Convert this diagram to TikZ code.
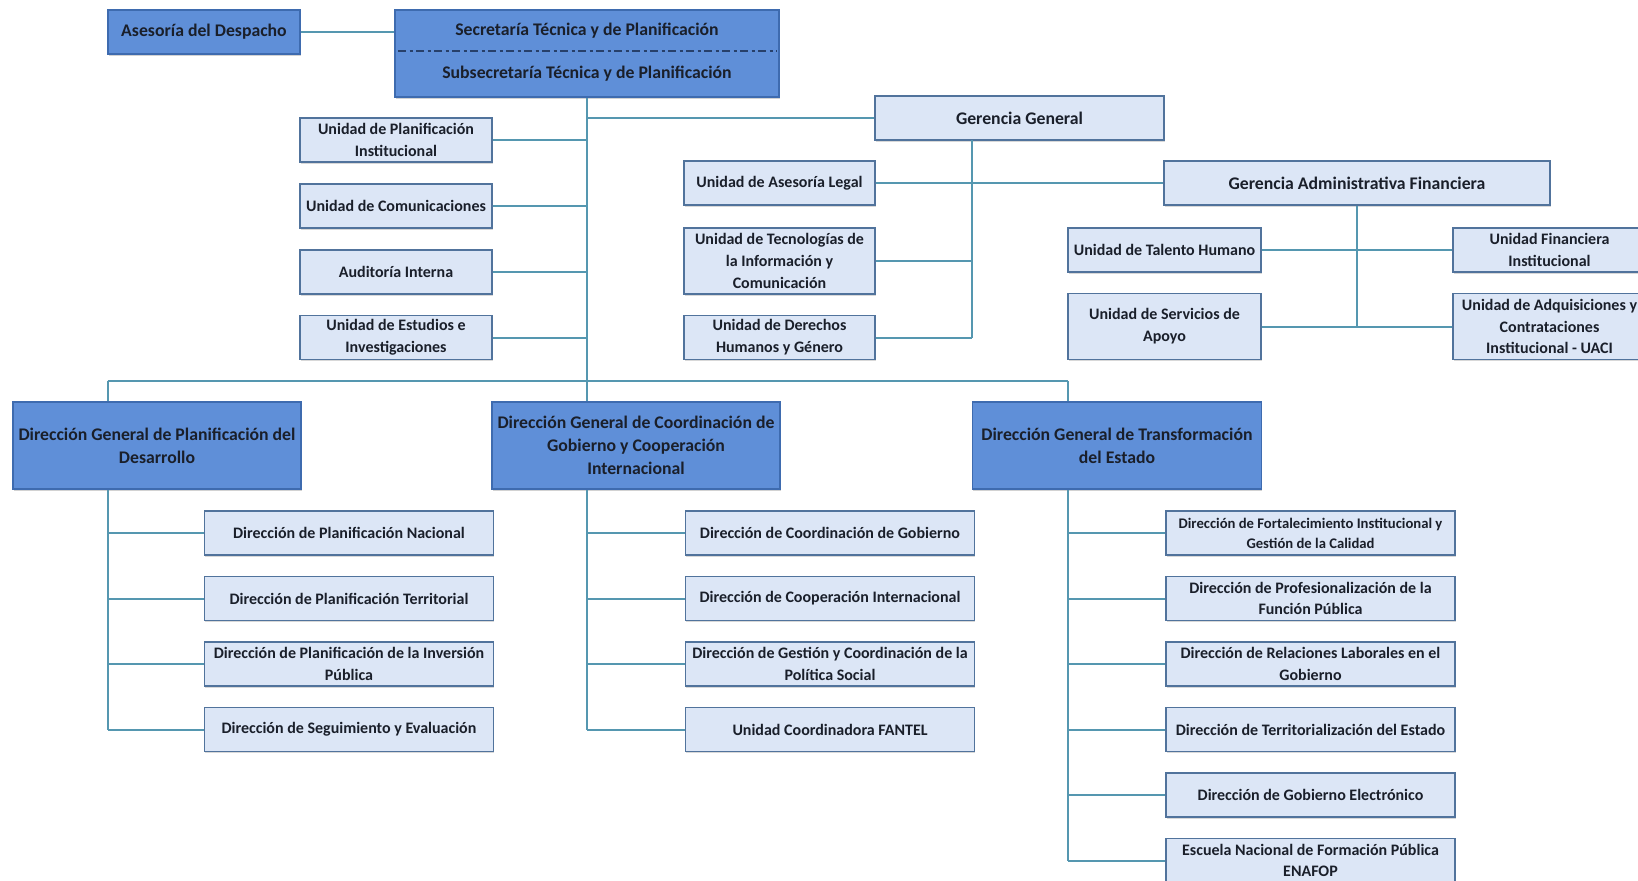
\documentclass[tikz,border=0pt]{standalone}
\usepackage{fontspec}
\setmainfont{Carlito}
\usetikzlibrary{shadows}
\definecolor{dkfill}{HTML}{5F8FD8}
\definecolor{dkline}{HTML}{3E6BAF}
\definecolor{ltfill}{HTML}{DCE6F6}
\definecolor{ltline}{HTML}{51739C}
\definecolor{wire}{HTML}{5597B0}
\definecolor{ink}{HTML}{1A1F2A}
\definecolor{dashcol}{HTML}{27406A}
\begin{document}
\begin{tikzpicture}[x=0.75pt, y=-0.75pt,
  boxfont/.style={font=\bfseries\fontsize{12}{16.3}\selectfont},
  bigfont/.style={font=\bfseries\fontsize{13.3}{17.2}\selectfont},
  dkbox/.style={draw=dkline, line width=1.1pt, fill=dkfill, align=center,
    inner sep=1pt, bigfont, text=ink,
    drop shadow={shadow xshift=0.6pt, shadow yshift=-1.2pt, opacity=0.35}},
  ltbox/.style={draw=ltline, line width=1.1pt, fill=ltfill, align=center,
    inner sep=1pt, boxfont, text=ink, minimum height=33pt,
    drop shadow={shadow xshift=0.6pt, shadow yshift=-1.2pt, opacity=0.3}},
  tall/.style={minimum height=49.5pt},
  wnarrow/.style={minimum width=144pt},
  wwide/.style={minimum width=216.5pt},
  wire/.style={draw=wire, line width=1.5pt},
  dashsep/.style={draw=dashcol, line width=1.1pt, dash pattern=on 6pt off 2.5pt on 2.5pt off 2.5pt}
]
\useasboundingbox (0,0) rectangle (1638,881);
\clip (0,0) rectangle (1638,881);
\fill[white] (0,0) rectangle (1638,881);

% ---- top level ----
\node[dkbox, minimum width=144pt, minimum height=33pt] (ase) at (204,32) {Asesoría del Despacho};
\node[dkbox, minimum width=288pt, minimum height=65.25pt] (sec) at (587,53.5) {};
\node[bigfont, text=ink] (sect) at (587,31) {Secretaría Técnica y de Planificación};
\node[bigfont, text=ink] (subt) at (587,74) {Subsecretaría Técnica y de Planificación};
\draw[dashsep] ([xshift=3pt, yshift=1.9pt]sec.west) -- ([xshift=-2pt, yshift=1.9pt]sec.east);

% ---- staff units ----
\node[ltbox, wnarrow] (upi) at (396,140) {Unidad de Planificación\\Institucional};
\node[ltbox, wnarrow] (uco) at (396,206) {Unidad de Comunicaciones};
\node[ltbox, wnarrow] (aud) at (396,272) {Auditoría Interna};
\node[ltbox, wnarrow] (uei) at (396,337.5) {Unidad de Estudios e\\Investigaciones};

% ---- Gerencia General ----
\node[ltbox, bigfont, minimum width=216.75pt] (gg) at (1019.5,118) {Gerencia General};
\node[ltbox, minimum width=143.25pt] (ual) at (779.5,183) {Unidad de Asesoría Legal};
\node[ltbox, minimum width=143.25pt, tall, inner sep=0pt] (uti) at (779.5,261) {Unidad de Tecnologías de\\la Información y\\Comunicación};
\node[ltbox, minimum width=143.25pt] (udh) at (779.5,337.5) {Unidad de Derechos\\Humanos y Género};

% ---- Gerencia Administrativa Financiera ----
\node[ltbox, bigfont, minimum width=289.5pt] (gaf) at (1357,183) {Gerencia Administrativa Financiera};
\node[ltbox, minimum width=144.75pt] (uth) at (1164.5,250) {Unidad de Talento Humano};
\node[ltbox, minimum width=144.75pt, tall] (usa) at (1164.5,326.5) {Unidad de Servicios de\\Apoyo};
\node[ltbox, minimum width=144.75pt] (ufi) at (1549.5,250) {Unidad Financiera\\Institucional};
\node[ltbox, minimum width=144.75pt, tall, inner sep=0pt] (uad) at (1549.5,326.5) {Unidad de Adquisiciones y\\Contrataciones\\Institucional - UACI};

% ---- Direcciones Generales ----
\node[dkbox, minimum width=216pt, minimum height=65.25pt] (dgp) at (157,445.5) {Dirección General de Planificación del\\Desarrollo};
\node[dkbox, minimum width=216pt, minimum height=65.25pt, inner sep=0pt] (dgc) at (636,445.5) {Dirección General de Coordinación de\\Gobierno y Cooperación\\Internacional};
\node[dkbox, minimum width=216.75pt, minimum height=65.25pt] (dgt) at (1117,445.5) {Dirección General de Transformación\\del Estado};

% ---- Planificación del Desarrollo ----
\node[ltbox, wwide] (p1) at (349,533) {Dirección de Planificación Nacional};
\node[ltbox, wwide] (p2) at (349,598.5) {Dirección de Planificación Territorial};
\node[ltbox, wwide] (p3) at (349,664) {Dirección de Planificación de la Inversión\\Pública};
\node[ltbox, wwide] (p4) at (349,729.5) {Dirección de Seguimiento y Evaluación};

% ---- Coordinación de Gobierno ----
\node[ltbox, wwide] (c1) at (830,533) {Dirección de Coordinación de Gobierno};
\node[ltbox, wwide] (c2) at (830,598.5) {Dirección de Cooperación Internacional};
\node[ltbox, wwide] (c3) at (830,664) {Dirección de Gestión y Coordinación de la\\Política Social};
\node[ltbox, wwide] (c4) at (830,729.5) {Unidad Coordinadora FANTEL};

% ---- Transformación del Estado ----
\node[ltbox, wwide, font=\bfseries\fontsize{11}{15}\selectfont] (t1) at (1310.5,533) {Dirección de Fortalecimiento Institucional y\\Gestión de la Calidad};
\node[ltbox, wwide] (t2) at (1310.5,598.5) {Dirección de Profesionalización de la\\Función Pública};
\node[ltbox, wwide] (t3) at (1310.5,664) {Dirección de Relaciones Laborales en el\\Gobierno};
\node[ltbox, wwide] (t4) at (1310.5,729.5) {Dirección de Territorialización del Estado};
\node[ltbox, wwide] (t5) at (1310.5,795) {Dirección de Gobierno Electrónico};
\node[ltbox, wwide] (t6) at (1310.5,860.5) {Escuela Nacional de Formación Pública\\ENAFOP};

% ---- connector anchor points ----
\coordinate (ggv) at (971.5,140);
\coordinate (busL) at (107.5,381);
\coordinate (busR) at (1067.5,381);

% ---- connectors ----
\draw[wire] (ase.east) -- (ase.east -| sec.west);
\draw[wire] (sec.south) -- (sec.south |- dgc.north);
\foreach \n in {upi,uco,aud,uei}
  \draw[wire] (\n.east) -- (\n.east -| sec.south);
\draw[wire] (gg.west) -- (gg.west -| sec.south);
\draw[wire] (ggv) -- (ggv |- udh.east);
\draw[wire] (ual.east) -- (gaf.west);
\draw[wire] (uti.east) -- (uti.east -| ggv);
\draw[wire] (udh.east) -- (udh.east -| ggv);
\draw[wire] (gaf.south) -- (gaf.south |- usa.east);
\draw[wire] (uth.east) -- (ufi.west);
\draw[wire] (usa.east) -- (uad.west);
\draw[wire] (busL) -- (busR);
\draw[wire] (busL) -- (busL |- dgp.north);
\draw[wire] (busR) -- (busR |- dgt.north);
\draw[wire] (busL |- dgp.south) -- (busL |- p4.west);
\foreach \n in {p1,p2,p3,p4}
  \draw[wire] (\n.west) -- (\n.west -| busL);
\draw[wire] (sec.south |- dgc.south) -- (sec.south |- c4.west);
\foreach \n in {c1,c2,c3,c4}
  \draw[wire] (\n.west) -- (\n.west -| sec.south);
\draw[wire] (busR |- dgt.south) -- (busR |- t6.west);
\foreach \n in {t1,t2,t3,t4,t5,t6}
  \draw[wire] (\n.west) -- (\n.west -| busR);
\end{tikzpicture}
\end{document}
